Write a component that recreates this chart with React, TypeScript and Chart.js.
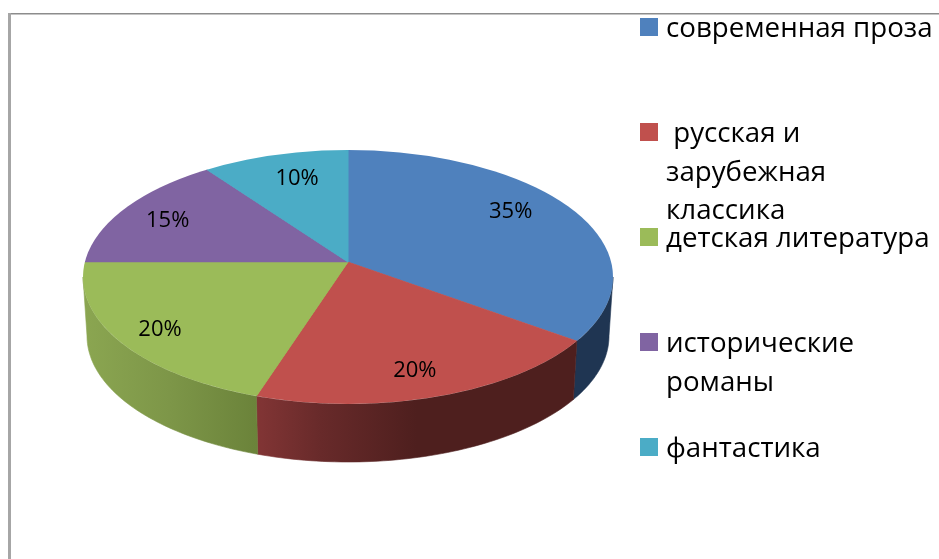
import React, { useEffect, useRef } from "react";
import { Chart, registerables } from "chart.js";

Chart.register(...registerables);

const categories = [
  "современная проза",
  "русская и зарубежная классика",
  "детская литература",
  "исторические романы",
  "фантастика",
];
const legendLines = [
  ["современная проза"],
  [" русская и", "зарубежная", "классика"],
  ["детская литература"],
  ["исторические", "романы"],
  ["фантастика"],
];
const shares = [35, 20, 20, 15, 10];
const sliceColors = ["#4f81bd", "#c0504d", "#9bbb59", "#8064a2", "#4bacc6"];

// Geometry of the tilted pie: rays fan out from the apex, the rim is an ellipse below it.
const apexY = 262;
const rimCenterY = 277;
const radiusX = 265;
const rimRadiusY = 127;
const rayRadiusY = 126;
const wallCenterY = 336;
const wallRadiusX = 261;
const wallRadiusY = 126;
const overscan = 1.25;
const FONT = '"Open Sans", "Noto Sans", sans-serif';

// Gradient stops for the side wall, horizontal in page space.
const wallStops: ([number, string][] | null)[] = [
  [[0, "#1f3552"], [1, "#1f3552"]],
  [[0, "#823535"], [0.2, "#682a2a"], [0.5, "#4e1f1e"], [1, "#4e1f1e"]],
  [[0, "#8ba651"], [0.5, "#7d9648"], [1, "#6b833a"]],
  null,
  null,
];
const labelRadius = [0.732, 0.9, 0.89, 0.756, 0.685];
const labelTurn = [-0.105, 0.03, -0.02, -0.02, 0.03];

const pieProjection = {
  id: "pieProjection",
  beforeDatasetsDraw(chart: any) {
    const ctx = chart.ctx;
    const arcs = chart.getDatasetMeta(0).data;
    const first = arcs[0];
    const cx = first.x;
    const cy = first.y;
    const R = first.outerRadius;

    // where a slice edge (a ray from the apex) meets the rim ellipse
    const rimTheta = (a: number) => {
      const ux = Math.cos(a);
      const vy = (rayRadiusY * Math.sin(a)) / rimRadiusY;
      const y0 = (apexY - rimCenterY) / rimRadiusY;
      const A = ux * ux + vy * vy;
      const B = 2 * y0 * vy;
      const C = y0 * y0 - 1;
      const t = (-B + Math.sqrt(B * B - 4 * A * C)) / (2 * A);
      return Math.atan2(y0 + t * vy, t * ux);
    };

    // side wall (only the front half of the rim is visible)
    arcs.forEach((el: any, i: number) => {
      const stops = wallStops[i];
      if (!stops) return;
      const s = rimTheta(el.startAngle);
      const e = rimTheta(el.endAngle);
      const t0 = s < 0 ? 0 : s;
      const t1 = e < 0 ? Math.PI : e;
      const n = 60;
      ctx.save();
      ctx.beginPath();
      for (let k = 0; k <= n; k++) {
        const t = t0 + ((t1 - t0) * k) / n;
        const x = cx + radiusX * Math.cos(t);
        const y = rimCenterY + rimRadiusY * Math.sin(t);
        if (k === 0) ctx.moveTo(x, y);
        else ctx.lineTo(x, y);
      }
      for (let k = n; k >= 0; k--) {
        const t = t0 + ((t1 - t0) * k) / n;
        ctx.lineTo(cx + wallRadiusX * Math.cos(t), wallCenterY + wallRadiusY * Math.sin(t));
      }
      ctx.closePath();
      const xs = [cx + radiusX * Math.cos(t0), cx + radiusX * Math.cos(t1)];
      const g = ctx.createLinearGradient(Math.min(...xs), 0, Math.max(...xs), 0);
      stops.forEach(([o, c]) => g.addColorStop(o, c));
      ctx.fillStyle = g;
      ctx.fill();
      ctx.strokeStyle = g;
      ctx.lineWidth = 0.6;
      ctx.stroke();
      ctx.restore();
    });

    // top face: the library's arcs, flattened about the apex and cut by the rim
    ctx.save();
    ctx.beginPath();
    ctx.ellipse(cx, rimCenterY, radiusX, rimRadiusY, 0, 0, Math.PI * 2);
    ctx.clip();
    ctx.translate(cx, apexY);
    ctx.scale((radiusX * overscan) / R, (rayRadiusY * overscan) / R);
    ctx.translate(-cx, -cy);
    arcs.forEach((el: any) => el.draw(ctx));
    ctx.restore();

    // value labels
    ctx.save();
    ctx.fillStyle = "#000";
    ctx.font = `22px ${FONT}`;
    ctx.textAlign = "center";
    ctx.textBaseline = "middle";
    arcs.forEach((el: any, i: number) => {
      const mid = (el.startAngle + el.endAngle) / 2 + labelTurn[i];
      const x = cx + radiusX * labelRadius[i] * Math.cos(mid);
      const y = apexY + rayRadiusY * labelRadius[i] * Math.sin(mid);
      ctx.fillText(`${shares[i]}%`, x, y);
    });
    ctx.restore();
    return false;
  },
  afterDraw(chart: any) {
    const ctx = chart.ctx;
    ctx.save();
    // page frame
    ctx.fillStyle = "#8c8c8c";
    ctx.fillRect(9, 13, chart.width - 9, 1.5);
    ctx.fillStyle = "#a6a6a6";
    ctx.fillRect(8, 13, 3, chart.height - 13);
    // legend
    ctx.font = `27.7px ${FONT}`;
    ctx.textBaseline = "alphabetic";
    ctx.textAlign = "left";
    legendLines.forEach((lines, i) => {
      const top = 18 + i * 105;
      ctx.fillStyle = sliceColors[i];
      ctx.fillRect(640, top, 18, 18);
      ctx.fillStyle = "#000";
      lines.forEach((t, j) => {
        ctx.fillText(t, 666, top + 19 + j * 38.5);
      });
    });
    ctx.restore();
  },
};

export default function App() {
  const ref = useRef<HTMLCanvasElement>(null);
  useEffect(() => {
    document.body.style.margin = "0";
    const chart = new Chart(ref.current!, {
      type: "pie",
      data: {
        labels: categories,
        datasets: [
          {
            data: shares,
            backgroundColor: sliceColors,
            borderColor: sliceColors,
            borderWidth: 0.8,
          },
        ],
      },
      options: {
        responsive: false,
        animation: false,
        layout: { padding: { left: 83, right: 326, top: 0, bottom: 0 } },
        plugins: { legend: { display: false }, tooltip: { enabled: false } },
      },
      plugins: [pieProjection],
    } as any);
    return () => chart.destroy();
  }, []);
  return (
    <div style={{ width: 939, height: 559, background: "#fff" }}>
      <canvas ref={ref} width={939} height={559} style={{ display: "block" }} />
    </div>
  );
}
